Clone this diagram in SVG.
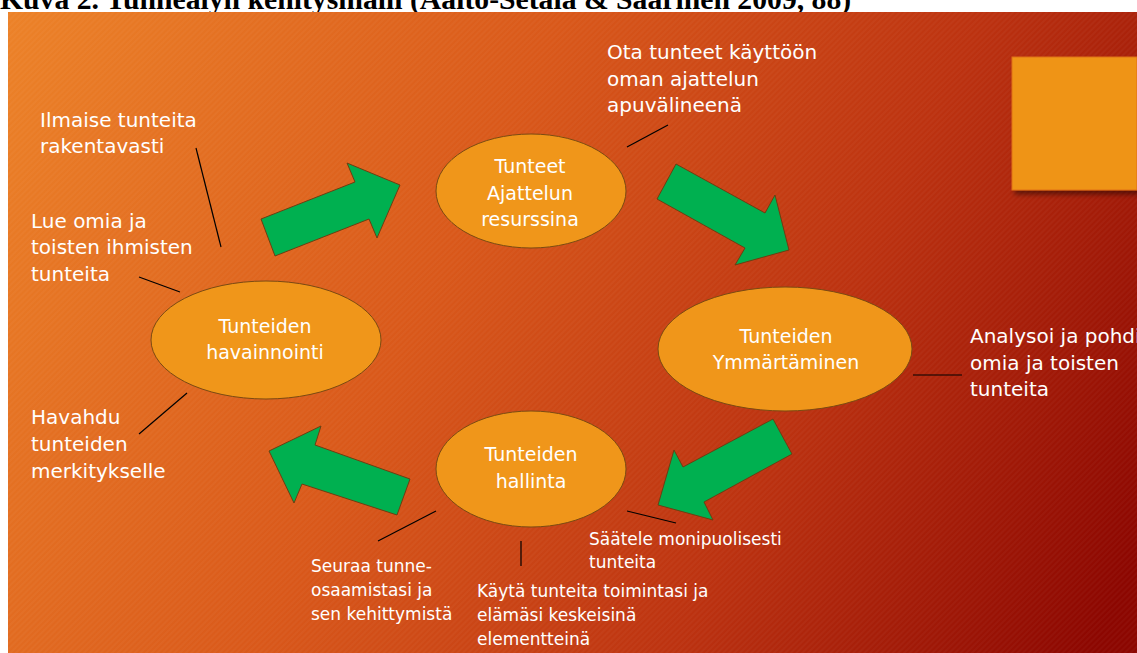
<svg xmlns="http://www.w3.org/2000/svg" width="1137" height="653" viewBox="0 0 1137 653">
<defs>
<linearGradient id="bg" gradientUnits="userSpaceOnUse" x1="8" y1="12" x2="1137" y2="560">
<stop offset="0" stop-color="#EC8228"/>
<stop offset="0.4" stop-color="#D9581A"/>
<stop offset="0.7" stop-color="#BC3210"/>
<stop offset="1" stop-color="#8C0600"/>
</linearGradient>
<pattern id="stripes" patternUnits="userSpaceOnUse" width="4" height="4" patternTransform="rotate(45)">
<rect width="2" height="4" fill="#ffffff" opacity="0.03"/>
</pattern>
<filter id="shadow" x="-10%" y="-10%" width="130%" height="130%">
<feGaussianBlur in="SourceAlpha" stdDeviation="2.5"/>
<feOffset dx="3" dy="4"/>
<feComponentTransfer><feFuncA type="linear" slope="0.45"/></feComponentTransfer>
<feMerge><feMergeNode/><feMergeNode in="SourceGraphic"/></feMerge>
</filter>
</defs>
<style>
.node{fill:#F0961A;stroke:#7A4A12;stroke-width:1}
.ntext{font-family:"DejaVu Sans",Verdana,sans-serif;font-size:19px;fill:#FFFFFF;text-anchor:middle}
.lbl{font-family:"DejaVu Sans",Verdana,sans-serif;font-size:20px;fill:#FFFFFF}
.slbl{font-family:"DejaVu Sans",Verdana,sans-serif;font-size:17px;fill:#FFFFFF}
.arrow{fill:#00B050;stroke:#6B3F12;stroke-width:1}
.conn{stroke:#000000;stroke-width:1.2;fill:none}
.title{font-family:"Liberation Serif","Times New Roman",serif;font-weight:bold;font-size:29.7px;fill:#000000}
</style>
<rect x="0" y="0" width="1137" height="653" fill="#FFFFFF"/>
<text class="title" x="0" y="9">Kuva 2. Tunnealyn kehitysmalli (Aalto-Setälä &amp; Saarinen 2009, 88)</text>
<rect x="8" y="12" width="1129" height="641" fill="url(#bg)"/>
<rect x="8" y="12" width="1129" height="641" fill="url(#stripes)"/>
<rect x="1012" y="57" width="125" height="133" fill="#EF9415" stroke="#E0701A" stroke-width="1" filter="url(#shadow)"/>

<g id="connectors">
<line class="conn" x1="196" y1="148" x2="221" y2="247"/>
<line class="conn" x1="139" y1="277" x2="180" y2="292"/>
<line class="conn" x1="139" y1="434" x2="187" y2="393"/>
<line class="conn" x1="627" y1="147" x2="668" y2="125"/>
<line class="conn" x1="913" y1="375" x2="962" y2="375"/>
<line class="conn" x1="627" y1="511" x2="676" y2="523"/>
<line class="conn" x1="521" y1="541" x2="521" y2="566"/>
<line class="conn" x1="378" y1="541" x2="436" y2="511"/>
<polygon class="arrow" points="261,219 355,182 347,163 400,185 377,238 369,219 275,256"/>
<polygon class="arrow" points="676,164 765,213 775,195 789,250 735,265 745,248 657,199"/>
<polygon class="arrow" points="773,419 792,454 704,502 713,520 658,505 674,450 683,467"/>
<polygon class="arrow" points="321,426 315,445 410,479 397,515 302,484 294,503 269,451"/>
</g>

<g id="node-ajattelun">
<ellipse class="node" cx="531" cy="191" rx="95" ry="57"/>
<text class="ntext" x="530" y="173">Tunteet</text>
<text class="ntext" x="530" y="200">Ajattelun</text>
<text class="ntext" x="530" y="226">resurssina</text>
</g>
<g id="node-havainnointi">
<ellipse class="node" cx="266" cy="340" rx="115" ry="59"/>
<text class="ntext" x="265" y="333">Tunteiden</text>
<text class="ntext" x="265" y="359">havainnointi</text>
</g>
<g id="node-ymmartaminen">
<ellipse class="node" cx="785" cy="349" rx="127" ry="62"/>
<text class="ntext" x="786" y="343">Tunteiden</text>
<text class="ntext" x="786" y="369">Ymmärtäminen</text>
</g>
<g id="node-hallinta">
<ellipse class="node" cx="531" cy="469" rx="95" ry="58"/>
<text class="ntext" x="531" y="461">Tunteiden</text>
<text class="ntext" x="531" y="488">hallinta</text>
</g>

<g id="label-ilmaise">
<text class="lbl" x="40" y="127">Ilmaise tunteita</text>
<text class="lbl" x="40" y="153">rakentavasti</text>
</g>
<g id="label-lue">
<text class="lbl" x="31" y="228">Lue omia ja</text>
<text class="lbl" x="31" y="254">toisten ihmisten</text>
<text class="lbl" x="31" y="281">tunteita</text>
</g>
<g id="label-havahdu">
<text class="lbl" x="31" y="424">Havahdu</text>
<text class="lbl" x="31" y="451">tunteiden</text>
<text class="lbl" x="31" y="478">merkitykselle</text>
</g>
<g id="label-ota">
<text class="lbl" x="607" y="59">Ota tunteet käyttöön</text>
<text class="lbl" x="607" y="86">oman ajattelun</text>
<text class="lbl" x="607" y="112">apuvälineenä</text>
</g>
<g id="label-analysoi">
<text class="lbl" x="970" y="343">Analysoi ja pohdi</text>
<text class="lbl" x="970" y="370">omia ja toisten</text>
<text class="lbl" x="970" y="396">tunteita</text>
</g>
<g id="label-saatele">
<text class="slbl" x="589" y="545">Säätele monipuolisesti</text>
<text class="slbl" x="589" y="568">tunteita</text>
</g>
<g id="label-seuraa">
<text class="slbl" x="311" y="572">Seuraa tunne-</text>
<text class="slbl" x="311" y="596">osaamistasi ja</text>
<text class="slbl" x="311" y="620">sen kehittymistä</text>
</g>
<g id="label-kayta">
<text class="slbl" x="477" y="597">Käytä tunteita toimintasi ja</text>
<text class="slbl" x="477" y="621">elämäsi keskeisinä</text>
<text class="slbl" x="477" y="645">elementteinä</text>
</g>
</svg>
